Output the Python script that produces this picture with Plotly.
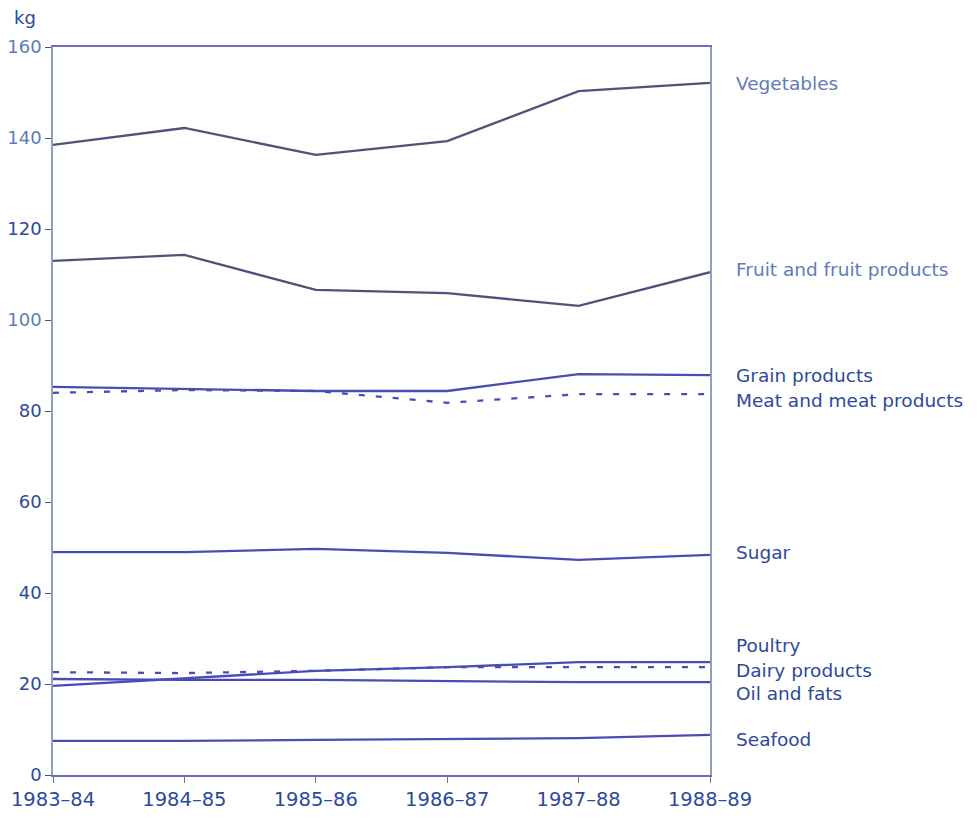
import plotly.graph_objects as go

""" Data (kg per person) """
years = ["1983–84", "1984–85", "1985–86", "1986–87", "1987–88", "1988–89"]

vegetables = [138.5, 142.2, 136.3, 139.3, 150.3, 152.1]
fruit = [113.0, 114.3, 106.6, 105.9, 103.1, 110.5]
grain = [85.3, 84.8, 84.4, 84.4, 88.1, 87.9]
meat = [84.0, 84.6, 84.4, 81.8, 83.7, 83.7]
sugar = [49.0, 49.0, 49.7, 48.8, 47.3, 48.4]
poultry = [19.6, 21.3, 22.9, 23.7, 24.8, 24.8]
dairy = [22.6, 22.4, 22.9, 23.7, 23.7, 23.7]
oil = [21.1, 20.9, 20.9, 20.7, 20.4, 20.4]
seafood = [7.5, 7.5, 7.7, 7.9, 8.1, 8.8]

series_names = ["Vegetables", "Fruit and fruit products", "Grain products",
                "Meat and meat products", "Sugar", "Poultry", "Dairy products",
                "Oil and fats", "Seafood"]
series_values = [vegetables, fruit, grain, meat, sugar, poultry, dairy, oil, seafood]
# where the right-hand label sits (in kg units)
label_y = [152, 111, 87.7, 82.2, 49, 28.4, 22.9, 18.0, 7.9]

y_ticks = [0, 20, 40, 60, 80, 100, 120, 140, 160]

dark = "#2c4a9c"
light = "#5f7bb8"
blue_line = "#4a4cb5"
grey_line = "#50527c"
font = "DejaVu Sans"

fig = go.Figure()
for name, vals in zip(series_names, series_values):
    dashed = name in ("Meat and meat products", "Dairy products")
    color = grey_line if name in ("Vegetables", "Fruit and fruit products") else blue_line
    fig.add_trace(go.Scatter(
        x=years, y=vals, mode="lines", name=name,
        line=dict(color=color, width=2.3, dash="6px,11px" if dashed else "solid"),
        showlegend=False,
    ))

# labels at the right of the plot
for name, ly in zip(series_names, label_y):
    col = light if name in ("Vegetables", "Fruit and fruit products") else dark
    fig.add_annotation(x=1.036, xref="paper", y=ly, yref="y", text=name,
                       showarrow=False, xanchor="left", yanchor="middle",
                       font=dict(family=font, size=18.5, color=col))

# unit label
fig.add_annotation(x=-0.063, xref="paper", y=1.04, yref="paper", text="kg",
                   showarrow=False, xanchor="left", yanchor="middle",
                   font=dict(family=font, size=18, color=dark))

tick_text = []
for t in y_ticks:
    c = light if t in (100, 140, 160) else dark
    tick_text.append(f"<span style='color:{c}'>{t}</span>")

fig.update_xaxes(
    type="category", range=[0, 5], showgrid=False, zeroline=False,
    showline=True, linecolor="#6a6fb8", linewidth=1.5, mirror=True,
    ticks="outside", ticklen=6, tickcolor="#777", tickwidth=1,
    tickfont=dict(family=font, size=19.5, color=dark), automargin=False,
)
fig.update_yaxes(
    range=[0, 160], showgrid=False, zeroline=False,
    showline=True, linecolor="#8f9fc4", linewidth=1.5, mirror=True,
    ticks="outside", ticklen=6, tickcolor="#555", tickwidth=1,
    tickvals=y_ticks, ticktext=tick_text,
    tickfont=dict(family=font, size=18, color=dark), automargin=False,
)
# the page body adds an 8px offset, so margins are set to compensate
fig.update_layout(
    width=977, height=821,
    margin=dict(l=45, r=275, t=39, b=54),
    plot_bgcolor="white", paper_bgcolor="white",
    font=dict(family=font, size=18, color=dark),
)

fig.write_html("out.html")
